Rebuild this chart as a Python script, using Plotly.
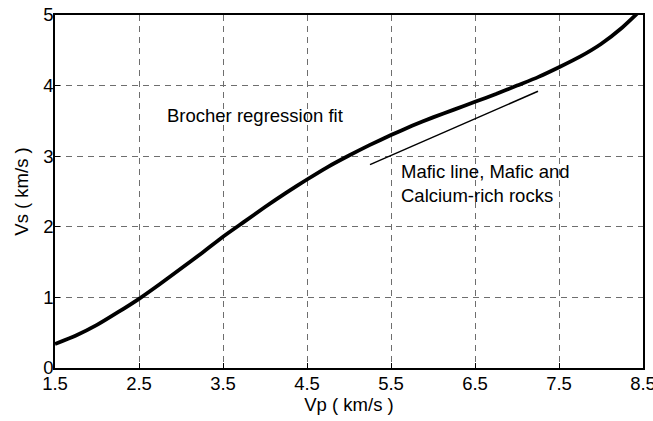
import plotly.graph_objects as go

# Brocher regression fit (Vp -> Vs), km/s
vp_fit = [1.5, 1.75, 2.0, 2.25, 2.5, 2.75, 3.0, 3.25, 3.5, 3.75, 4.0, 4.25, 4.5,
          4.75, 5.0, 5.25, 5.5, 5.75, 6.0, 6.25, 6.5, 6.75, 7.0, 7.25, 7.5,
          7.75, 8.0, 8.25, 8.5]
vs_fit = [0.34, 0.46, 0.61, 0.79, 0.98, 1.19, 1.41, 1.63, 1.86, 2.07, 2.28, 2.48, 2.67,
          2.85, 3.01, 3.16, 3.30, 3.43, 3.55, 3.66, 3.77, 3.88, 4.00, 4.12, 4.26,
          4.41, 4.59, 4.82, 5.10]

# Mafic line (mafic and calcium-rich rocks)
vp_mafic = [5.25, 7.25]
vs_mafic = [2.88, 3.92]

x_ticks = [1.5, 2.5, 3.5, 4.5, 5.5, 6.5, 7.5, 8.5]
y_ticks = [0, 1, 2, 3, 4, 5]

FONT = "Liberation Sans, Arial, sans-serif"
FS = 18.5

fig = go.Figure()
fig.add_trace(go.Scatter(x=vp_fit, y=vs_fit, mode="lines",
                         line=dict(color="black", width=3.8, shape="spline", smoothing=0.6),
                         showlegend=False, hoverinfo="skip"))
fig.add_trace(go.Scatter(x=vp_mafic, y=vs_mafic, mode="lines",
                         line=dict(color="black", width=1.5),
                         showlegend=False, hoverinfo="skip"))

fig.add_annotation(x=2.81, y=3.57, xref="x", yref="y", text="Brocher regression fit",
                   showarrow=False, xanchor="left", yanchor="middle",
                   font=dict(family=FONT, size=FS, color="black"))
fig.add_annotation(x=5.6, y=2.62, xref="x", yref="y",
                   text="Mafic line, Mafic and<br>Calcium-rich rocks",
                   showarrow=False, xanchor="left", yanchor="middle", align="left",
                   font=dict(family=FONT, size=FS, color="black"))

axis_common = dict(
    showline=True, linecolor="black", linewidth=1.5, mirror=True,
    showgrid=True, gridcolor="#6e6e6e", gridwidth=1, griddash="6px,5px",
    zeroline=False, ticks="inside", ticklen=5, tickcolor="black",
    tickfont=dict(family=FONT, size=FS, color="black"),
    ticklabeloverflow="allow", automargin=False,
)

fig.update_xaxes(range=[1.5, 8.5], tickvals=x_ticks, ticktext=[str(v) for v in x_ticks],
                 ticklabelstandoff=-2,
                 title=dict(text="Vp ( km/s )", font=dict(family=FONT, size=FS, color="black"),
                            standoff=2),
                 **axis_common)
fig.update_yaxes(range=[0, 5], tickvals=y_ticks, ticklabelstandoff=-4,
                 title=dict(text="Vs ( km/s )", font=dict(family=FONT, size=FS, color="black"),
                            standoff=10),
                 **axis_common)

fig.update_layout(width=653, height=421, margin=dict(l=55, r=10, t=15, b=53),
                  plot_bgcolor="white", paper_bgcolor="white",
                  font=dict(family=FONT, size=FS, color="black"))

fig.write_html("out.html")
